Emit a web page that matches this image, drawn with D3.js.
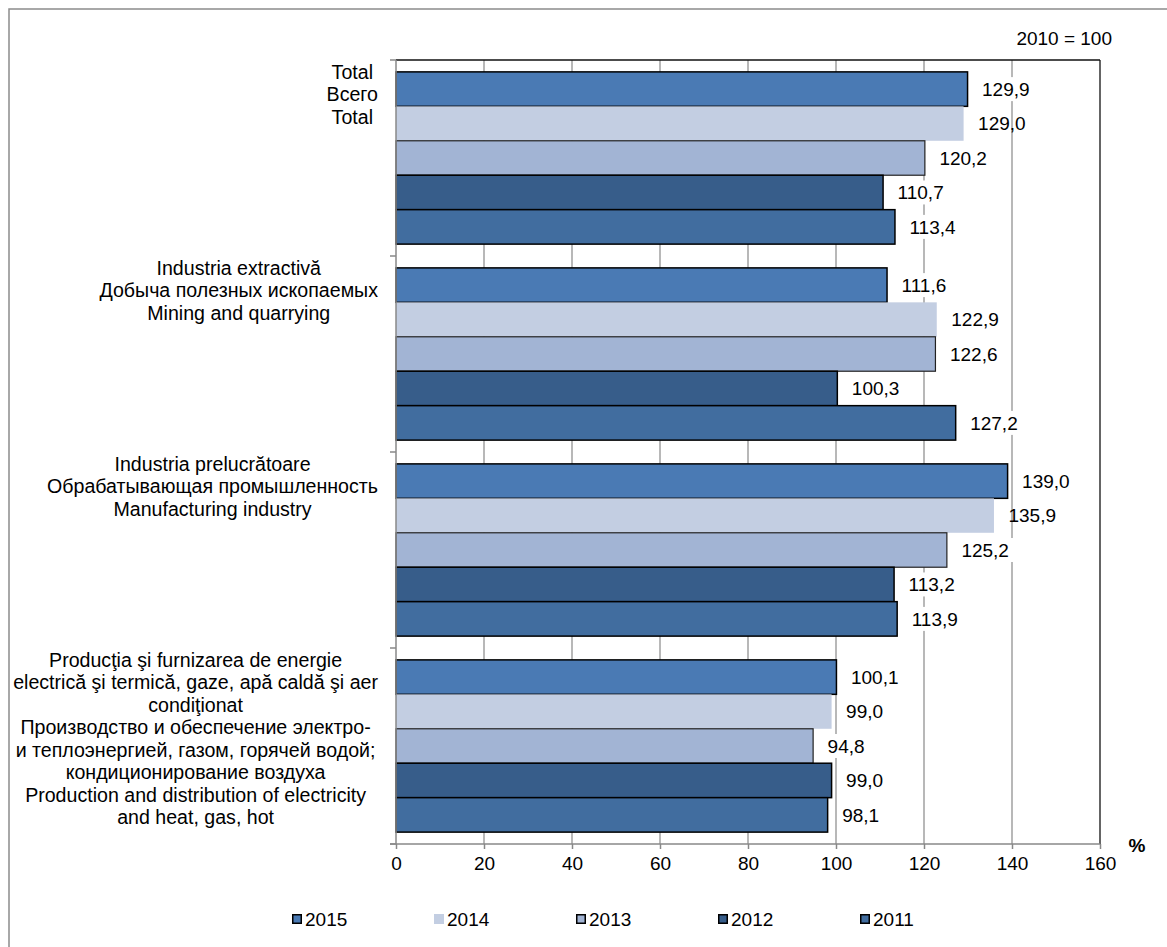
<!DOCTYPE html>
<html>
<head>
<meta charset="utf-8">
<script src="https://cdn.jsdelivr.net/npm/d3@7"></script>
<style>
  html, body { margin: 0; padding: 0; background: #fff; }
  svg { display: block; font-family: "Liberation Sans", Arial, sans-serif; }
</style>
</head>
<body>
<svg id="chart" width="1167" height="947"></svg>
<script>
// ---- data ----
const categories = ["Total", "Mining", "Manufacturing", "Energy"];
const categoryLabels = [
  ["Total", "Всего", "Total"],
  ["Industria extractivă", "Добыча полезных ископаемых", "Mining and quarrying"],
  ["Industria prelucrătoare", "Обрабатывающая промышленность", "Manufacturing industry"],
  ["Producţia şi furnizarea de energie", "electrică şi termică, gaze, apă caldă şi aer", "condiţionat",
   "Производство и обеспечение электро-", "и теплоэнергией, газом, горячей водой;",
   "кондиционирование воздуха", "Production and distribution of electricity", "and heat, gas, hot"]
];
const years = ["2015", "2014", "2013", "2012", "2011"];
const values2015 = [129.9, 111.6, 139.0, 100.1];
const values2014 = [129.0, 122.9, 135.9, 99.0];
const values2013 = [120.2, 122.6, 125.2, 94.8];
const values2012 = [110.7, 100.3, 113.2, 99.0];
const values2011 = [113.4, 127.2, 113.9, 98.1];
const xTicks = [0, 20, 40, 60, 80, 100, 120, 140, 160];
const noteText = "2010 = 100";
const unitText = "%";

const seriesValues = { "2015": values2015, "2014": values2014, "2013": values2013, "2012": values2012, "2011": values2011 };
const styles = {
  "2015": { fill: "#4a7ab4", stroke: "#000", sw: 1.5, labelBg: true },
  "2014": { fill: "#c3cee2", stroke: "none", sw: 0, labelBg: false },
  "2013": { fill: "#a2b4d4", stroke: "#222", sw: 1.2, labelBg: true },
  "2012": { fill: "#375d8a", stroke: "#000", sw: 1.5, labelBg: true },
  "2011": { fill: "#416d9f", stroke: "#000", sw: 1.5, labelBg: true }
};

const svg = d3.select("#chart");
const fontSize = 19;
const catFontSize = 19.6;

// outer frame
svg.append("rect").attr("x", 9).attr("y", 9).attr("width", 1200).attr("height", 1000)
  .attr("fill", "none").attr("stroke", "#8c8c8c").attr("stroke-width", 1.5);

const pL = 396, pR = 1100, pT = 60, pB = 844;

const x = d3.scaleLinear().domain([0, 160]).range([pL, pR]);
const y0 = d3.scaleBand().domain(categories).range([pT, pB]).paddingInner(0.1213).paddingOuter(0.1213 / 2);
const y1 = d3.scaleBand().domain(years).range([0, y0.bandwidth()]);
const step = y0.step();

// gridlines
svg.append("g").selectAll("line").data(xTicks.filter(t => t > 0 && t < 160)).join("line")
  .attr("x1", d => x(d)).attr("x2", d => x(d)).attr("y1", pT).attr("y2", pB)
  .attr("stroke", "#a0a0a0").attr("stroke-width", 1.5);

// plot border top/right
svg.append("line").attr("x1", pL).attr("x2", pR).attr("y1", pT).attr("y2", pT)
  .attr("stroke", "#111").attr("stroke-width", 1.3);
svg.append("line").attr("x1", pR).attr("x2", pR).attr("y1", pT).attr("y2", pB)
  .attr("stroke", "#111").attr("stroke-width", 1.3);

// bars
const groups = svg.append("g").selectAll("g").data(categories).join("g")
  .attr("transform", d => `translate(0,${y0(d)})`);

groups.each(function (cat, ci) {
  const g = d3.select(this);
  years.forEach(yr => {
    const v = seriesValues[yr][ci];
    const st = styles[yr];
    g.append("rect")
      .attr("x", x(0)).attr("y", y1(yr))
      .attr("width", x(v) - x(0)).attr("height", y1.bandwidth())
      .attr("fill", st.fill)
      .attr("stroke", st.stroke).attr("stroke-width", st.sw);
  });
});

// value labels
const fmt = v => d3.format(".1f")(v).replace(".", ",");
groups.each(function (cat, ci) {
  const g = d3.select(this);
  years.forEach(yr => {
    const v = seriesValues[yr][ci];
    const st = styles[yr];
    const tx = x(v) + 14.5;
    const ty = y1(yr) + y1.bandwidth() / 2;
    const bg = g.append("rect");
    const t = g.append("text")
      .attr("x", tx).attr("y", ty).attr("dy", "0.35em")
      .attr("font-size", fontSize).attr("fill", "#000")
      .text(fmt(v));
    if (st.labelBg) {
      const w = t.node().getComputedTextLength();
      bg.attr("x", tx - 5).attr("y", ty - 12).attr("width", w + 10).attr("height", 24).attr("fill", "#fff");
    } else bg.remove();
  });
});

// left axis
svg.append("line").attr("x1", pL).attr("x2", pL).attr("y1", pT).attr("y2", pB)
  .attr("stroke", "#888").attr("stroke-width", 1.5);
svg.append("g").selectAll("line").data(d3.range(categories.length + 1)).join("line")
  .attr("x1", pL - 6).attr("x2", pL).attr("y1", i => pT + i * step).attr("y2", i => pT + i * step)
  .attr("stroke", "#888").attr("stroke-width", 1.5);

// bottom axis
const xAxis = d3.axisBottom(x).tickValues(xTicks).tickSize(5).tickPadding(8).tickFormat(d3.format("d"));
const axG = svg.append("g").attr("transform", `translate(0,${pB})`).call(xAxis);
axG.select(".domain").attr("stroke", "#888").attr("stroke-width", 1.5).attr("d", `M${pL - 6},0H${pR}`);
axG.selectAll(".tick line").attr("stroke", "#888").attr("stroke-width", 1.5);
axG.selectAll(".tick text").attr("font-size", fontSize).attr("fill", "#000")
  .attr("font-family", "Liberation Sans, Arial, sans-serif");

// category labels
const lineH = 22.5;
categoryLabels.forEach((lines, ci) => {
  const bandTop = pT + ci * step;
  const g = svg.append("g");
  const texts = lines.map((ln, li) => g.append("text")
    .attr("y", bandTop + 12 + li * lineH).attr("dy", "0.35em")
    .attr("font-size", catFontSize).attr("fill", "#000").attr("text-anchor", "middle")
    .text(ln));
  const maxW = d3.max(texts, t => t.node().getComputedTextLength());
  const cx = 378 - maxW / 2;
  texts.forEach(t => t.attr("x", cx));
});

// note and unit
svg.append("text").attr("x", 1112).attr("y", 38).attr("dy", "0.35em")
  .attr("text-anchor", "end").attr("font-size", fontSize).attr("fill", "#000").text(noteText);
svg.append("text").attr("x", 1137).attr("y", 845).attr("dy", "0.35em")
  .attr("text-anchor", "middle").attr("font-size", fontSize).attr("font-weight", "bold").attr("fill", "#000").text(unitText);

// legend
const legend = svg.append("g").selectAll("g").data(years).join("g")
  .attr("transform", (d, i) => `translate(${292 + i * 142},919)`);
legend.append("rect")
  .attr("x", d => styles[d].stroke === "none" ? 0 : 0.75)
  .attr("y", d => styles[d].stroke === "none" ? -5 : -4.25)
  .attr("width", d => styles[d].stroke === "none" ? 10 : 8.5)
  .attr("height", d => styles[d].stroke === "none" ? 10 : 8.5)
  .attr("fill", d => styles[d].fill)
  .attr("stroke", d => styles[d].stroke === "none" ? "none" : "#000")
  .attr("stroke-width", 1.5);
legend.append("text").attr("x", 13).attr("y", 0).attr("dy", "0.35em")
  .attr("font-size", fontSize).attr("fill", "#000").text(d => d);
</script>
</body>
</html>
